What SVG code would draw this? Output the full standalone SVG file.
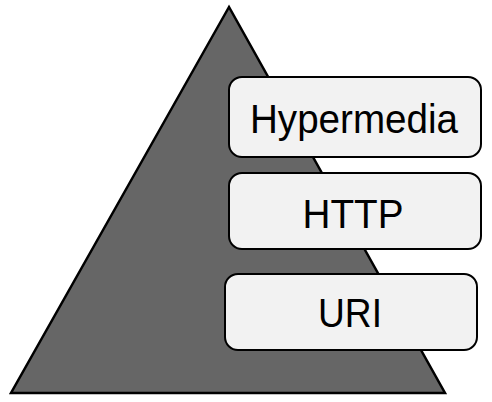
<svg xmlns="http://www.w3.org/2000/svg" width="492" height="402" viewBox="0 0 492 402">
<style>
.box{fill:#f2f2f2;stroke:#000;stroke-width:2}
.lbl{font-family:"Liberation Sans",Arial,sans-serif;font-size:41px;fill:#000;text-anchor:middle}
</style>
<rect width="492" height="402" fill="#fff"/>
<g id="pyramid">
<polygon points="229,7 11,393 445,393" fill="#666666" stroke="#000" stroke-width="2.5" stroke-linejoin="miter"/>
</g>
<g id="connectors"></g>
<g id="hypermedia">
<rect class="box" x="229" y="77" width="252" height="80" rx="13"/>
<text class="lbl" x="354" y="133" textLength="208" lengthAdjust="spacingAndGlyphs">Hypermedia</text>
</g>
<g id="http">
<rect class="box" x="229" y="173" width="252" height="76" rx="13"/>
<text class="lbl" x="353" y="228" textLength="101" lengthAdjust="spacingAndGlyphs">HTTP</text>
</g>
<g id="uri">
<rect class="box" x="225" y="274" width="252" height="76" rx="13"/>
<text class="lbl" x="350" y="327" textLength="64" lengthAdjust="spacingAndGlyphs">URI</text>
</g>
</svg>
